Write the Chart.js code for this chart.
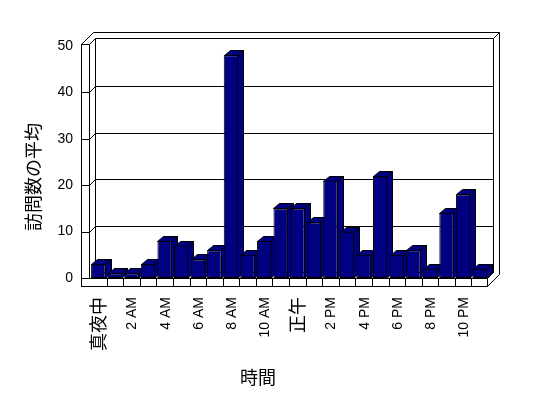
<!DOCTYPE html>
<html>
<head>
<meta charset="utf-8">
<script src="https://cdn.jsdelivr.net/npm/chart.js@4/dist/chart.umd.min.js"></script>
<style>
  html, body { margin: 0; padding: 0; background: #fff; }
  canvas { display: block; }
</style>
</head>
<body>
<canvas id="chart" width="548" height="398"></canvas>
<script>
// Dados
const hourLabels = ['真夜中', '1 AM', '2 AM', '3 AM', '4 AM', '5 AM', '6 AM', '7 AM', '8 AM', '9 AM', '10 AM', '11 AM',
  '正午', '1 PM', '2 PM', '3 PM', '4 PM', '5 PM', '6 PM', '7 PM', '8 PM', '9 PM', '10 PM', '11 PM'];
const visitAverages = [3, 1, 1, 3, 8, 7, 4, 6, 48, 5, 8, 15, 15, 12, 21, 10, 5, 22, 5, 6, 2, 14, 18, 2];
const yMax = 50;
const yStep = 10;
const yTitle = '訪問数の平均';
const xTitle = '時間';

const barColor = '#000080';
const latinFont = "'Liberation Sans', Arial, sans-serif";
const cjkFont = "'Noto Sans CJK JP', sans-serif";

// Paredes, chão e faces 3D das barras
const depth = 6;
const barDx = 6;
const barDy = 5;

function line(ctx, pts) {
  ctx.beginPath();
  ctx.moveTo(pts[0][0], pts[0][1]);
  for (let i = 1; i < pts.length; i++) ctx.lineTo(pts[i][0], pts[i][1]);
  ctx.stroke();
}

function poly(ctx, pts) {
  ctx.beginPath();
  ctx.moveTo(pts[0][0], pts[0][1]);
  for (let i = 1; i < pts.length; i++) ctx.lineTo(pts[i][0], pts[i][1]);
  ctx.closePath();
  ctx.fill();
  ctx.stroke();
}

const frame3d = {
  id: 'frame3d',
  beforeDatasetsDraw(chart) {
    const ctx = chart.ctx;
    const a = chart.chartArea;
    const ys = chart.scales.y;
    const xs = chart.scales.x;
    const d = depth;
    const L = a.left, R = a.right, B = a.bottom, T = a.top;
    const top = T - 2;
    const fl = B + 8;
    ctx.save();
    ctx.strokeStyle = '#000';
    ctx.lineWidth = 1;
    ctx.translate(0.5, 0.5);

    // parede esquerda e parede do fundo
    line(ctx, [[L - 9, top], [L - 9, fl]]);
    line(ctx, [[L - 1, top], [L - 1, B]]);
    line(ctx, [[L - 9, top], [L - 1, top]]);
    line(ctx, [[L - 9, top], [L - 9 + 2 * d, top - 2 * d], [R - 1 + 2 * d, top - 2 * d], [R - 1 + 2 * d, fl - 2 * d]]);
    line(ctx, [[L - 1, top], [L - 1 + d, top - d], [R - 1 + d, top - d], [R - 1 + 2 * d, top - 2 * d]]);
    line(ctx, [[L - 1 + d, top - d], [L - 1 + d, B - d]]);
    line(ctx, [[R - 1 + d, top - d], [R - 1 + d, B - d]]);

    // linhas de grade
    for (let v = 0; v < yMax; v += yStep) {
      const y = Math.round(ys.getPixelForValue(v));
      line(ctx, [[L - 1 + d, y - d], [R - 1 + d, y - d]]);
      if (v > 0) line(ctx, [[L - 9, y], [L - 1, y], [L - 1 + d, y - d]]);
    }

    // chão
    ctx.fillStyle = '#fff';
    poly(ctx, [[L - 1, B], [R - 1, B], [R - 1, fl], [L - 9, fl], [L - 9, B]]);
    line(ctx, [[R - 1, B], [R - 1 + d, B - d]]);
    line(ctx, [[R - 1, fl], [R - 1 + 2 * d, fl - 2 * d]]);
    line(ctx, [[L - 9, top], [L - 9, fl]]);
    const w = (R - L) / hourLabels.length;
    for (let i = 1; i < hourLabels.length; i++) {
      const x = Math.round(xs.getPixelForValue(i) - w / 2);
      line(ctx, [[x, B], [x, fl]]);
    }

    // faces de cima e do lado das barras
    ctx.fillStyle = barColor;
    chart.getDatasetMeta(0).data.forEach(bar => {
      const l = Math.round(bar.x - bar.width / 2);
      const r = Math.round(bar.x + bar.width / 2) - 1;
      const t = Math.round(bar.y);
      const b = Math.round(bar.base);
      poly(ctx, [[r, t], [r + barDx, t - barDy], [r + barDx, b - barDy], [r, b]]);
      poly(ctx, [[l, t], [l + barDx, t - barDy], [r + barDx, t - barDy], [r, t]]);
    });
    ctx.restore();
  },
  afterDraw(chart) {
    const ctx = chart.ctx;
    const xs = chart.scales.x;
    const B = chart.chartArea.bottom;
    ctx.save();
    ctx.fillStyle = '#000';

    // rótulos do eixo x (um sim, um não), girados
    hourLabels.forEach((lab, i) => {
      if (i % 2 !== 0) return;
      const cjk = /[^\x00-\x7F]/.test(lab);
      ctx.save();
      ctx.font = cjk ? '18px ' + cjkFont : '14px ' + latinFont;
      ctx.textAlign = 'right';
      ctx.textBaseline = 'middle';
      ctx.translate(Math.round(xs.getPixelForValue(i)) + (cjk ? 0 : 1), B + 19);
      ctx.rotate(-Math.PI / 2);
      ctx.fillText(lab, 0, 0);
      ctx.restore();
    });

    // títulos dos eixos
    ctx.font = '18px ' + cjkFont;
    ctx.textAlign = 'center';
    ctx.textBaseline = 'middle';
    ctx.fillText(xTitle, 258, 377);
    ctx.translate(33, 177);
    ctx.rotate(-Math.PI / 2);
    ctx.fillText(yTitle, 0, 0);
    ctx.restore();
  }
};

const ctx = document.getElementById('chart').getContext('2d');
const chart = new Chart(ctx, {
  type: 'bar',
  data: {
    labels: hourLabels,
    datasets: [{
      label: yTitle,
      data: visitAverages,
      backgroundColor: barColor,
      borderColor: '#000',
      borderWidth: 1,
      borderSkipped: false,
      categoryPercentage: 1,
      barPercentage: 0.87
    }]
  },
  options: {
    responsive: false,
    animation: false,
    layout: { padding: { left: 50, right: 60, top: 46, bottom: 0 } },
    plugins: {
      legend: { display: false },
      tooltip: { enabled: false }
    },
    scales: {
      x: {
        grid: { display: false, drawTicks: false },
        border: { display: false },
        afterFit(scale) { scale.height = 120; },
        ticks: { display: false, autoSkip: false }
      },
      y: {
        min: 0,
        max: yMax,
        grid: { display: false, drawTicks: false },
        border: { display: false },
        afterFit(scale) { scale.width = 40; },
        ticks: {
          stepSize: yStep,
          padding: 17,
          color: '#000',
          font: { family: latinFont, size: 14 }
        }
      }
    }
  },
  plugins: [frame3d]
});
</script>
</body>
</html>
